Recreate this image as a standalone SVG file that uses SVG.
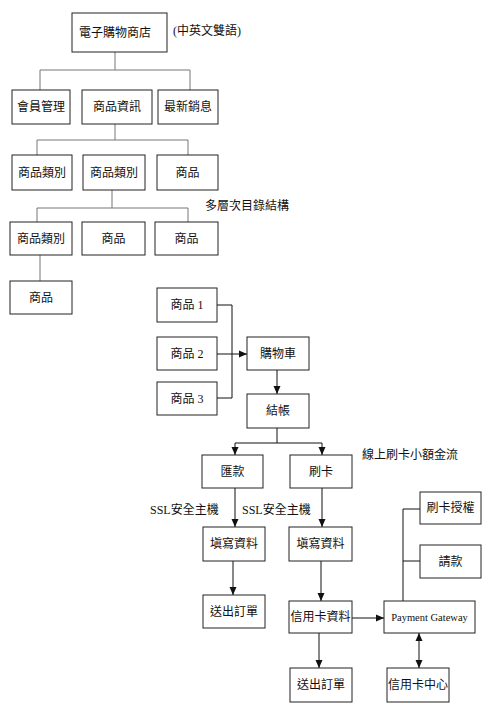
<svg xmlns="http://www.w3.org/2000/svg" width="500" height="710" viewBox="0 0 500 710">
<defs>
<style>
.b{fill:#fff;stroke:#222;stroke-width:1}
.t{font-family:"Liberation Serif","Noto Sans CJK TC",serif;font-size:12px;fill:#111;text-anchor:middle;dominant-baseline:central}
.l{font-family:"Liberation Serif","Noto Sans CJK TC",serif;font-size:12px;fill:#111;dominant-baseline:central}
.g{fill:none;stroke:#777;stroke-width:1}
.k{fill:none;stroke:#111;stroke-width:1}
</style>
<marker id="a" viewBox="0 0 8 8" refX="8" refY="4" markerWidth="8" markerHeight="8" orient="auto" markerUnits="userSpaceOnUse">
<path d="M0,0.5 L8,4 L0,7.5 Z" fill="#111"/>
</marker>
<marker id="as" viewBox="0 0 8 8" refX="0" refY="4" markerWidth="8" markerHeight="8" orient="auto" markerUnits="userSpaceOnUse">
<path d="M8,0.5 L0,4 L8,7.5 Z" fill="#111"/>
</marker>
</defs>
<rect width="500" height="710" fill="#fff"/>
<g id="connectors">
<path class="g" d="M115,52 V70 M40,90 V70 H190 V90"/>
<path class="g" d="M115,124 V140 M37,155 V140 H188 V155"/>
<path class="g" d="M112,190 V208 M37,222 V208 H188 V222"/>
<path class="g" d="M40,255 V281"/>
<path class="k" d="M217,305 H232 V398 H217"/>
<path class="k" d="M217,354 H247" marker-end="url(#a)"/>
<path class="k" d="M277,370 V394" marker-end="url(#a)"/>
<path class="k" d="M277,428 V443 M235,443 H322"/>
<path class="k" d="M235,443 V455" marker-end="url(#a)"/>
<path class="k" d="M322,443 V455" marker-end="url(#a)"/>
<path class="k" d="M235,488 V527" marker-end="url(#a)"/>
<path class="k" d="M322,488 V527" marker-end="url(#a)"/>
<path class="k" d="M233,561 V595" marker-end="url(#a)"/>
<path class="k" d="M321,561 V601" marker-end="url(#a)"/>
<path class="k" d="M352,618 H384" marker-end="url(#a)"/>
<path class="k" d="M319,633 V668" marker-end="url(#a)"/>
<path class="k" d="M419,633 V668" marker-start="url(#as)" marker-end="url(#a)"/>
<path class="k" d="M403,601 V509 H420 M403,561 H420"/>
</g>
<g id="n-store"><rect class="b" x="72" y="13" width="95" height="39"/><text class="t" x="115" y="32.5">電子購物商店</text></g>
<g id="n-lang"><text class="l" x="173" y="31">(中英文雙語)</text></g>
<g id="n-member"><rect class="b" x="12" y="90" width="58" height="34"/><text class="t" x="41" y="107">會員管理</text></g>
<g id="n-info"><rect class="b" x="82" y="90" width="70" height="34"/><text class="t" x="117" y="107">商品資訊</text></g>
<g id="n-news"><rect class="b" x="158" y="90" width="60" height="34"/><text class="t" x="188" y="107">最新銷息</text></g>
<g id="n-cat1"><rect class="b" x="12" y="155" width="60" height="35"/><text class="t" x="42" y="172.5">商品類別</text></g>
<g id="n-cat2"><rect class="b" x="83" y="155" width="62" height="35"/><text class="t" x="114" y="172.5">商品類別</text></g>
<g id="n-prod1"><rect class="b" x="157" y="155" width="61" height="35"/><text class="t" x="187.5" y="172.5">商品</text></g>
<g id="n-multi"><text class="l" x="205" y="206">多層次目錄結構</text></g>
<g id="n-cat3"><rect class="b" x="10" y="222" width="62" height="33"/><text class="t" x="41" y="238.5">商品類別</text></g>
<g id="n-prod2"><rect class="b" x="82" y="222" width="63" height="33"/><text class="t" x="113.5" y="238.5">商品</text></g>
<g id="n-prod3"><rect class="b" x="155" y="222" width="63" height="33"/><text class="t" x="186.5" y="238.5">商品</text></g>
<g id="n-prod4"><rect class="b" x="10" y="281" width="62" height="33"/><text class="t" x="41" y="297.5">商品</text></g>
<g id="n-p1"><rect class="b" x="157" y="288" width="60" height="34"/><text class="t" x="187" y="305">商品 1</text></g>
<g id="n-p2"><rect class="b" x="157" y="337" width="60" height="33"/><text class="t" x="187" y="353.5">商品 2</text></g>
<g id="n-p3"><rect class="b" x="157" y="382" width="60" height="33"/><text class="t" x="187" y="398.5">商品 3</text></g>
<g id="n-cart"><rect class="b" x="247" y="337" width="62" height="33"/><text class="t" x="278" y="353.5">購物車</text></g>
<g id="n-checkout"><rect class="b" x="247" y="394" width="62" height="34"/><text class="t" x="278" y="411">結帳</text></g>
<g id="n-remit"><rect class="b" x="202" y="455" width="61" height="33"/><text class="t" x="232.5" y="471.5">匯款</text></g>
<g id="n-card"><rect class="b" x="290" y="455" width="62" height="33"/><text class="t" x="321" y="471.5">刷卡</text></g>
<g id="n-micro"><text class="l" x="362" y="455">線上刷卡小額金流</text></g>
<g id="n-ssl1"><text class="l" x="150" y="510">SSL安全主機</text></g>
<g id="n-ssl2"><text class="l" x="242" y="510">SSL安全主機</text></g>
<g id="n-fill1"><rect class="b" x="203" y="527" width="62" height="34"/><text class="t" x="234" y="544">塡寫資料</text></g>
<g id="n-fill2"><rect class="b" x="289" y="527" width="63" height="34"/><text class="t" x="320.5" y="544">塡寫資料</text></g>
<g id="n-order1"><rect class="b" x="203" y="595" width="62" height="33"/><text class="t" x="234" y="611.5">送出訂單</text></g>
<g id="n-cardinfo"><rect class="b" x="289" y="601" width="63" height="32"/><text class="t" x="320.5" y="617">信用卡資料</text></g>
<g id="n-gateway"><rect class="b" x="384" y="601" width="91" height="32"/><text class="t" x="429.5" y="617" style="font-size:10.5px">Payment Gateway</text></g>
<g id="n-order2"><rect class="b" x="290" y="668" width="62" height="34"/><text class="t" x="321" y="685">送出訂單</text></g>
<g id="n-center"><rect class="b" x="387" y="668" width="62" height="34"/><text class="t" x="418" y="685">信用卡中心</text></g>
<g id="n-auth"><rect class="b" x="420" y="492" width="61" height="32"/><text class="t" x="450.5" y="508">刷卡授權</text></g>
<g id="n-charge"><rect class="b" x="420" y="545" width="61" height="33"/><text class="t" x="450.5" y="561.5">請款</text></g>
</svg>
